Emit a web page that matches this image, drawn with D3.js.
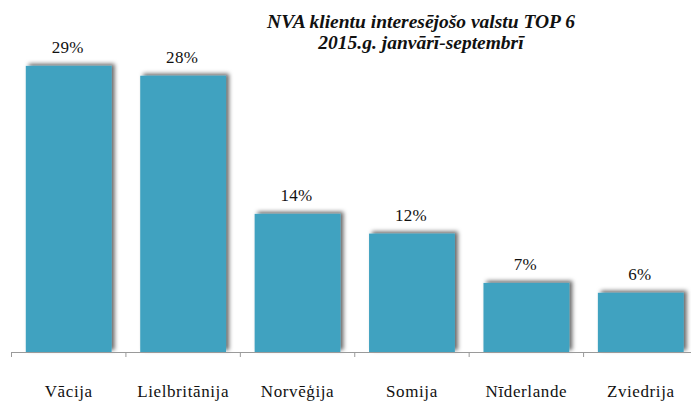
<!DOCTYPE html>
<html>
<head>
<meta charset="utf-8">
<script src="https://cdn.jsdelivr.net/npm/d3@7"></script>
<style>
  html, body { margin: 0; padding: 0; background: #fff; }
  svg { display: block; }
  svg text { font-family: "Liberation Serif", "Times New Roman", serif !important; fill: #111; }
</style>
</head>
<body>
<svg id="chart" width="691" height="403"></svg>
<script>
// Countries of interest to NVA clients, Jan–Sep 2015
const countries = ["Vācija", "Lielbritānija", "Norvēģija", "Somija", "Nīderlande", "Zviedrija"];
const shares = [29, 28, 14, 12, 7, 6];
const titleLines = ["NVA klientu interesējošo valstu TOP 6", "2015.g. janvārī-septembrī"];

const serif = "'Liberation Serif', 'Times New Roman', serif";
const svg = d3.select("#chart");

const x = d3.scaleBand()
  .domain(countries)
  .range([11.5, 698])
  .paddingInner(0.25)
  .paddingOuter(0.125);

const y = d3.scaleLinear()
  .domain([0, 30])
  .range([352, 56]);

// soft grey shadow behind each bar
const defs = svg.append("defs");
const f = defs.append("filter").attr("id", "barShadow")
  .attr("x", "-10%").attr("y", "-10%").attr("width", "125%").attr("height", "120%");
f.append("feDropShadow")
  .attr("dx", 3).attr("dy", -2).attr("stdDeviation", 2)
  .attr("flood-color", "#000").attr("flood-opacity", 0.6);

// bars
svg.append("g").selectAll("rect")
  .data(shares)
  .join("rect")
  .attr("x", (d, i) => x(countries[i]))
  .attr("y", d => y(d))
  .attr("width", x.bandwidth())
  .attr("height", d => y(0) - y(d))
  .attr("fill", "#3fa2c0")
  .attr("filter", "url(#barShadow)");

// value labels
svg.append("g").selectAll("text")
  .data(shares)
  .join("text")
  .attr("x", (d, i) => x(countries[i]) + x.bandwidth() / 2 - 1)
  .attr("y", d => y(d) - 13)
  .attr("text-anchor", "middle")
  .style("font-family", serif)
  .style("font-size", "17px")
  .style("letter-spacing", "0.3px")
  .text(d => d + "%");

// category axis
const axis = d3.axisBottom(x)
  .tickSize(0)
  .tickPadding(33)
  .tickFormat(d => d);
const gx = svg.append("g")
  .attr("transform", `translate(0,${y(0)})`)
  .call(axis)
  .attr("font-family", null)
  .attr("font-size", null);
gx.select(".domain").attr("stroke", "#9a9a9a").attr("stroke-width", 1);
gx.selectAll(".tick text")
  .style("font-family", serif)
  .style("font-size", "17px")
  .style("letter-spacing", "0.6px")
  .attr("fill", "#111")
  .attr("dy", "0.71em");
gx.selectAll(".tick line").remove();

// boundary ticks between categories
const bounds = countries.map(c => x(c) - x.step() * x.paddingInner() / 2);
bounds.push(x(countries[countries.length - 1]) + x.bandwidth() + x.step() * x.paddingInner() / 2);
gx.selectAll("line.bound")
  .data(bounds)
  .join("line")
  .attr("class", "bound")
  .attr("x1", d => d).attr("x2", d => d)
  .attr("y1", 0).attr("y2", 5)
  .attr("stroke", "#9a9a9a");

// title
svg.append("g").selectAll("text")
  .data(titleLines)
  .join("text")
  .attr("x", 421)
  .attr("y", (d, i) => 28 + i * 21)
  .attr("text-anchor", "middle")
  .style("font-family", serif)
  .style("font-size", "19.5px")
  .style("font-weight", "bold")
  .style("font-style", "italic")
  .text(d => d);
</script>
</body>
</html>
